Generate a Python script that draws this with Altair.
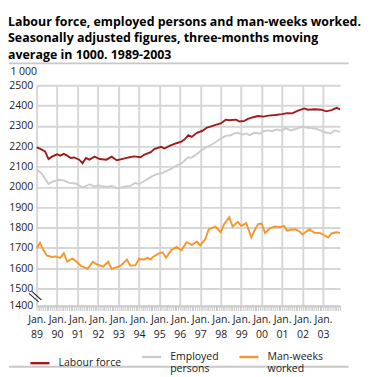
import altair as alt
import pandas as pd

series_names = ["Labour force", "Employed persons", "Man-weeks worked"]
colors = ["#a01c1c", "#cccccc", "#f7962a"]

labour_dates = ["1989-01", "1989-03", "1989-06", "1989-08", "1989-10", "1990-01", "1990-03", "1990-05",
                "1990-07", "1990-09", "1990-11", "1991-02", "1991-04", "1991-06", "1991-08", "1991-11",
                "1992-02", "1992-06", "1992-09", "1992-12", "1993-03", "1993-07", "1993-10", "1994-02",
                "1994-04", "1994-08", "1994-10", "1995-02", "1995-04", "1995-07", "1995-11", "1996-02",
                "1996-04", "1996-06", "1996-08", "1996-11", "1997-02", "1997-05", "1997-07", "1997-10",
                "1998-01", "1998-04", "1998-06", "1998-10", "1998-12", "1999-03", "1999-05", "1999-08",
                "1999-11", "2000-02", "2000-05", "2000-09", "2001-01", "2001-04", "2001-07", "2001-10",
                "2002-02", "2002-04", "2002-08", "2002-12", "2003-03", "2003-06", "2003-09", "2003-11"]
labour_values = [2195, 2188, 2175, 2137, 2149, 2160, 2154, 2163,
                 2154, 2142, 2145, 2134, 2117, 2142, 2134, 2149,
                 2137, 2134, 2149, 2131, 2137, 2145, 2150, 2146,
                 2158, 2171, 2186, 2197, 2189, 2202, 2215, 2223,
                 2235, 2254, 2246, 2266, 2275, 2292, 2297, 2305,
                 2312, 2331, 2328, 2331, 2322, 2325, 2335, 2343,
                 2349, 2346, 2351, 2354, 2358, 2363, 2362, 2374,
                 2386, 2380, 2382, 2380, 2372, 2378, 2389, 2382]

employed_dates = ["1989-01", "1989-04", "1989-08", "1989-10", "1990-02", "1990-05", "1990-08", "1990-12",
                  "1991-04", "1991-08", "1991-11", "1992-01", "1992-06", "1992-09", "1993-01", "1993-05",
                  "1993-08", "1993-11", "1994-01", "1994-04", "1994-07", "1994-10", "1995-01", "1995-03",
                  "1995-07", "1995-11", "1996-02", "1996-04", "1996-06", "1996-08", "1996-11", "1997-02",
                  "1997-05", "1997-07", "1997-10", "1998-01", "1998-04", "1998-07", "1998-09", "1998-11",
                  "1999-02", "1999-04", "1999-06", "1999-09", "1999-12", "2000-02", "2000-05", "2000-07",
                  "2000-10", "2001-01", "2001-03", "2001-06", "2001-09", "2002-01", "2002-03", "2002-06",
                  "2002-09", "2002-12", "2003-02", "2003-05", "2003-08", "2003-11"]
employed_values = [2086, 2066, 2015, 2025, 2035, 2032, 2020, 2017,
                   1997, 2012, 2002, 2008, 2000, 2005, 1992, 2002,
                   2005, 2020, 2013, 2028, 2043, 2058, 2066, 2069,
                   2085, 2105, 2115, 2131, 2146, 2143, 2162, 2182,
                   2197, 2205, 2220, 2238, 2251, 2254, 2263, 2266,
                   2258, 2263, 2255, 2266, 2263, 2274, 2278, 2274,
                   2282, 2277, 2289, 2278, 2285, 2297, 2292, 2289,
                   2286, 2277, 2269, 2263, 2278, 2271]

manweeks_dates = ["1989-01", "1989-03", "1989-05", "1989-07", "1989-10", "1989-12", "1990-03", "1990-05",
                  "1990-07", "1990-10", "1990-12", "1991-03", "1991-07", "1991-10", "1991-12", "1992-04",
                  "1992-07", "1992-09", "1993-01", "1993-03", "1993-06", "1993-08", "1993-11", "1994-01",
                  "1994-04", "1994-06", "1994-08", "1994-09", "1995-01", "1995-03", "1995-05", "1995-08",
                  "1995-11", "1996-02", "1996-05", "1996-08", "1996-11", "1997-01", "1997-04", "1997-06",
                  "1997-10", "1998-01", "1998-03", "1998-06", "1998-08", "1998-11", "1999-01", "1999-03",
                  "1999-04", "1999-07", "1999-09", "1999-11", "2000-01", "2000-03", "2000-06", "2000-09",
                  "2000-12", "2001-02", "2001-04", "2001-06", "2001-09", "2001-11", "2002-01", "2002-04",
                  "2002-05", "2002-08", "2002-11", "2003-01", "2003-04", "2003-06", "2003-09", "2003-11"]
manweeks_values = [1697, 1725, 1689, 1663, 1655, 1658, 1651, 1674,
                   1632, 1648, 1635, 1612, 1597, 1632, 1620, 1608,
                   1632, 1597, 1608, 1617, 1643, 1612, 1615, 1645,
                   1643, 1651, 1643, 1654, 1674, 1678, 1651, 1689,
                   1705, 1689, 1728, 1715, 1731, 1712, 1743, 1792,
                   1805, 1777, 1817, 1851, 1805, 1828, 1808, 1817,
                   1823, 1751, 1789, 1817, 1820, 1774, 1797, 1805,
                   1802, 1808, 1785, 1789, 1792, 1782, 1766, 1786,
                   1792, 1774, 1774, 1766, 1751, 1771, 1777, 1774]

y_ticks = [1400, 1500, 1600, 1700, 1800, 1900, 2000, 2100, 2200, 2300, 2400, 2500]
title_lines = ["Labour force, employed persons and man-weeks worked.",
               "Seasonally adjusted figures, three-months moving",
               "average in 1000. 1989-2003"]
unit_label = "1 000"

rows = []
for name, ds, vs in zip(series_names, [labour_dates, employed_dates, manweeks_dates],
                        [labour_values, employed_values, manweeks_values]):
    for d, v in zip(ds, vs):
        rows.append({"date": pd.Timestamp(d + "-01"), "value": v, "series": name})
df = pd.DataFrame(rows)

W, H = 318, 231
BRK = 18
FONT = "Open Sans"
GRID = "#d6d6d6"
FRAME = "#c8c8c8"

x_enc = alt.X(
    "date:T",
    scale=alt.Scale(domain=[alt.DateTime(year=1989, month=1, date=1),
                            alt.DateTime(year=2003, month=11, date=1)], nice=False),
    axis=alt.Axis(
        title=None,
        tickCount={"interval": "month", "step": 1},
        labelExpr="month(datum.value) === 0 ? ['Jan.', timeFormat(datum.value, '%y')] : ''",
        labelOverlap=False, labelFlush=False, labelBound=False,
        labelFont=FONT, labelFontSize=11, labelColor="#222", labelLineHeight=15,
        labelPadding=4,
        grid=True, gridColor=GRID, gridWidth=2,
        gridOpacity={"condition": {"test": "month(datum.value) === 0", "value": 1}, "value": 0},
        ticks=True, tickColor="#c4c4c4", tickSize=5, tickWidth=1,
        domain=True, domainColor="#c4c4c4", domainWidth=1,
    ),
)

y_enc = alt.Y(
    "value:Q",
    scale=alt.Scale(domain=[1400, 1500, 2500], range=[H, H - BRK, 0], nice=False, zero=False),
    axis=alt.Axis(
        values=y_ticks, format="d",
        title=unit_label, titleAngle=0, titleX=-28, titleY=-14, titleAlign="left",
        titleBaseline="middle", titleFont=FONT, titleFontSize=11, titleFontWeight="normal",
        titleColor="#222",
        labelFont=FONT, labelFontSize=11, labelColor="#222", labelPadding=4,
        grid=True, gridColor=GRID, gridWidth=2,
        ticks=False, domain=False,
    ),
)

legend_expr = ("datum.label === 'Employed persons' ? ['Employed', 'persons'] : "
               "datum.label === 'Man-weeks worked' ? ['Man-weeks', 'worked'] : datum.label + '  '")

lines = alt.Chart(df).mark_line(strokeWidth=2).encode(
    x=x_enc,
    y=y_enc,
    color=alt.Color(
        "series:N",
        scale=alt.Scale(domain=series_names, range=colors),
        sort=series_names,
        legend=alt.Legend(
            title=None, orient="none", legendX=-8, legendY=H + 42, direction="horizontal",
            symbolType="stroke", symbolSize=400, symbolStrokeWidth=2.5,
            labelFont=FONT, labelFontSize=11, labelColor="#222", labelOffset=8,
            labelExpr=legend_expr, columnPadding=16, labelLimit=200,
        ),
    ),
)

one = pd.DataFrame({"k": [0]})
top_rule = alt.Chart(one).mark_rule(color=FRAME, strokeWidth=2).encode(
    x=alt.value(-29), x2=alt.value(327), y=alt.value(-23))
bottom_rule = alt.Chart(one).mark_rule(color=FRAME, strokeWidth=2).encode(
    x=alt.value(-29), x2=alt.value(327), y=alt.value(H + 64))
break1 = alt.Chart(one).mark_rule(color="#333333", strokeWidth=1.2).encode(
    x=alt.value(-8), x2=alt.value(2), y=alt.value(H - 13), y2=alt.value(H - 4))
break2 = alt.Chart(one).mark_rule(color="#333333", strokeWidth=1.2).encode(
    x=alt.value(-5), x2=alt.value(5), y=alt.value(H - 15), y2=alt.value(H - 6))

chart = alt.layer(lines, top_rule, bottom_rule, break1, break2).properties(
    width=W, height=H,
    padding={"left": 0, "top": 0, "right": 0, "bottom": 0},
    title=alt.Title(title_lines, anchor="start", font=FONT, fontSize=13, fontWeight="bold",
                    lineHeight=17, offset=1, color="#000000"),
).configure(font=FONT).configure_view(stroke=None)

chart.save("out.html", embed_options={"renderer": "svg", "actions": False})
